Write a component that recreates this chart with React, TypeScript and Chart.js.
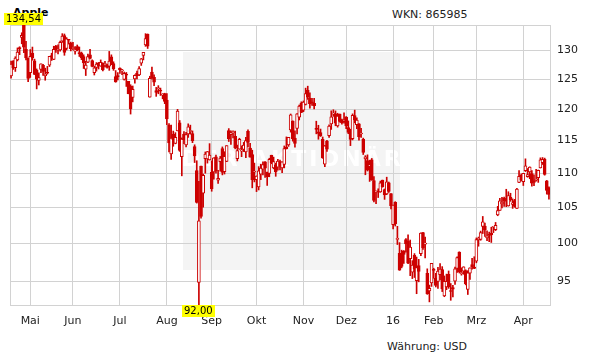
import { useEffect, useRef } from 'react';
import { Chart, registerables } from 'chart.js';

Chart.register(...registerables);

// ---- data ----
const titleText = 'Apple';
const wknText = 'WKN: 865985';
const currencyText = 'Währung: USD';
const watermarkText = 'DER AKTIONÄR';

const monthDays: [string, number[]][] = [
  ['2015-04', [20, 21, 22, 23, 24, 27, 28, 29, 30]],
  ['2015-05', [1, 4, 5, 6, 7, 8, 11, 12, 13, 14, 15, 18, 19, 20, 21, 22, 26, 27, 28, 29]],
  ['2015-06', [1, 2, 3, 4, 5, 8, 9, 10, 11, 12, 15, 16, 17, 18, 19, 22, 23, 24, 25, 26, 29, 30]],
  ['2015-07', [1, 2, 6, 7, 8, 9, 10, 13, 14, 15, 16, 17, 20, 21, 22, 23, 24, 27, 28, 29, 30, 31]],
  ['2015-08', [3, 4, 5, 6, 7, 10, 11, 12, 13, 14, 17, 18, 19, 20, 21, 24, 25, 26, 27, 28, 31]],
  ['2015-09', [1, 2, 3, 4, 8, 9, 10, 11, 14, 15, 16, 17, 18, 21, 22, 23, 24, 25, 28, 29, 30]],
  ['2015-10', [1, 2, 5, 6, 7, 8, 9, 12, 13, 14, 15, 16, 19, 20, 21, 22, 23, 26, 27, 28, 29, 30]],
  ['2015-11', [2, 3, 4, 5, 6, 9, 10, 11, 12, 13, 16, 17, 18, 19, 20, 23, 24, 25, 27, 30]],
  ['2015-12', [1, 2, 3, 4, 7, 8, 9, 10, 11, 14, 15, 16, 17, 18, 21, 22, 23, 24, 28, 29, 30, 31]],
  ['2016-01', [4, 5, 6, 7, 8, 11, 12, 13, 14, 15, 19, 20, 21, 22, 25, 26, 27, 28, 29]],
  ['2016-02', [1, 2, 3, 4, 5, 8, 9, 10, 11, 12, 16, 17, 18, 19, 22, 23, 24, 25, 26, 29]],
  ['2016-03', [1, 2, 3, 4, 7, 8, 9, 10, 11, 14, 15, 16, 17, 18, 21, 22, 23, 24, 28, 29, 30, 31]],
  ['2016-04', [1, 4, 5, 6, 7, 8, 11, 12, 13, 14, 15, 18, 19]],
];

const monthLabels: Record<string, string> = {
  '2015-05': 'Mai', '2015-06': 'Jun', '2015-07': 'Jul', '2015-08': 'Aug',
  '2015-09': 'Sep', '2015-10': 'Okt', '2015-11': 'Nov', '2015-12': 'Dez',
  '2016-01': '16', '2016-02': 'Feb', '2016-03': 'Mrz', '2016-04': 'Apr',
};

const yTickValues = [95, 100, 105, 110, 115, 120, 125, 130];

const opens = [
  125.57, 128.10, 126.99, 128.30, 130.49, 132.31, 134.46, 130.16, 128.64,
  126.10, 129.50, 128.15, 126.56, 124.77, 126.68, 127.39, 125.60, 126.15, 127.41, 129.07, 128.38, 130.69, 130.00, 130.07, 131.60, 132.60, 130.34, 131.86, 131.23,
  130.28, 129.86, 130.66, 129.58, 129.50, 128.90, 126.70, 127.92, 129.18, 128.19, 126.10, 127.03, 127.72, 127.23, 127.71, 127.49, 127.48, 127.21, 128.86, 127.67, 125.46, 125.57,
  126.90, 126.43, 124.94, 125.89, 124.64, 123.85, 121.94, 125.03, 126.04, 125.72, 127.74, 129.08, 130.97, 132.85, 121.99, 126.20, 125.32, 123.09, 123.38, 123.15, 122.32, 122.60,
  121.50, 117.42, 112.95, 115.97, 114.58, 116.53, 117.81, 112.53, 116.04, 114.32, 116.04, 116.43, 116.10, 114.08, 110.43, 94.87, 111.11, 107.09, 112.23, 112.17, 112.03,
  110.15, 110.23, 112.49, 108.97, 111.75, 113.76, 110.27, 111.79, 116.58, 115.93, 116.25, 115.66, 112.21, 113.67, 113.38, 113.63, 113.25, 116.44, 113.85, 112.83, 110.17,
  109.07, 108.01, 109.88, 110.63, 111.74, 110.19, 110.00, 112.73, 110.82, 111.29, 110.93, 111.78, 110.80, 111.34, 114.00, 114.33, 116.70, 118.08, 115.40, 116.93, 118.70, 120.99,
  119.87, 120.79, 123.13, 121.85, 121.11, 120.96, 116.90, 116.37, 116.26, 115.20, 111.38, 114.92, 115.76, 117.64, 119.20, 119.27, 117.33, 119.21, 118.29, 117.99,
  118.75, 117.05, 116.55, 115.29, 118.98, 117.52, 117.64, 116.04, 115.19, 112.18, 111.94, 111.07, 112.02, 108.91, 107.28, 107.40, 107.27, 109.00, 107.59, 106.96, 108.58, 107.01,
  102.61, 105.75, 100.56, 98.68, 98.55, 98.97, 100.55, 100.32, 97.96, 96.20, 98.41, 95.10, 97.06, 98.63, 101.52, 99.93, 96.04, 93.79, 94.79,
  96.47, 95.42, 95.00, 95.86, 96.52, 93.13, 94.29, 95.92, 93.79, 94.19, 95.02, 96.67, 98.84, 96.00, 96.31, 96.40, 93.98, 96.05, 97.20, 96.86,
  97.65, 100.51, 100.58, 102.37, 102.39, 100.78, 101.31, 101.41, 102.24, 101.91, 103.96, 104.61, 105.52, 106.34, 105.93, 105.25, 106.48, 105.47, 106.00, 104.89, 108.65, 109.72,
  108.78, 110.42, 109.51, 110.23, 109.95, 108.91, 108.97, 109.34, 110.80, 111.62, 112.11, 108.89, 107.88,
];

const highs = [
  128.12, 128.20, 128.87, 130.42, 130.63, 133.13, 134.54, 131.59, 128.64,
  130.13, 130.57, 128.45, 126.75, 126.08, 127.62, 127.56, 126.88, 127.19, 128.95, 129.49, 130.72, 130.88, 130.98, 131.63, 132.97, 132.91, 132.26, 131.95, 131.45,
  131.39, 130.66, 130.94, 130.58, 129.69, 129.21, 128.08, 129.34, 130.18, 128.33, 127.24, 127.85, 127.88, 128.31, 127.82, 128.06, 127.61, 129.80, 129.20, 127.99, 126.47, 126.12,
  126.94, 126.69, 126.23, 126.15, 124.64, 124.06, 123.85, 125.76, 126.37, 127.15, 128.57, 129.62, 132.97, 132.92, 125.50, 127.09, 125.74, 123.61, 123.91, 123.50, 122.57, 122.64,
  122.57, 117.70, 117.44, 116.50, 116.25, 119.99, 118.18, 115.42, 116.40, 116.31, 117.65, 117.44, 116.52, 114.35, 111.90, 108.80, 111.11, 109.89, 113.24, 113.31, 114.53,
  111.88, 112.34, 112.78, 110.45, 112.56, 114.02, 113.28, 114.21, 116.89, 116.53, 116.54, 116.49, 114.30, 115.37, 114.18, 114.72, 115.50, 116.69, 114.57, 113.51, 111.54,
  109.62, 111.01, 111.37, 111.74, 111.77, 110.19, 112.28, 112.75, 112.45, 111.52, 112.10, 112.00, 111.75, 114.17, 115.58, 115.50, 119.23, 118.13, 116.54, 119.30, 120.69, 121.22,
  121.36, 123.49, 123.82, 122.69, 121.81, 121.81, 118.07, 117.42, 116.82, 115.57, 114.24, 115.05, 117.49, 119.75, 119.92, 119.73, 119.35, 119.23, 118.41, 119.41,
  118.81, 118.11, 116.79, 119.25, 119.86, 118.60, 117.69, 116.94, 115.39, 112.68, 112.80, 111.99, 112.25, 109.52, 107.37, 107.72, 108.85, 109.00, 107.69, 109.43, 108.70, 107.03,
  105.37, 105.85, 102.37, 100.13, 99.11, 99.06, 100.69, 101.19, 100.48, 97.71, 98.65, 98.19, 97.88, 101.46, 101.53, 100.88, 96.63, 94.52, 97.34,
  96.71, 96.04, 96.84, 97.33, 96.92, 95.70, 95.94, 96.35, 94.72, 94.50, 96.85, 98.21, 98.89, 96.76, 96.90, 96.50, 96.38, 96.76, 98.02, 98.23,
  100.77, 100.89, 101.71, 103.75, 102.83, 101.76, 101.58, 102.24, 102.28, 102.91, 105.18, 106.35, 106.47, 106.50, 107.65, 107.29, 107.07, 106.25, 106.19, 107.79, 110.42, 109.90,
  110.00, 112.19, 110.73, 110.98, 110.42, 109.77, 110.61, 110.50, 112.34, 112.39, 112.30, 108.95, 108.00,
];

const lows = [
  125.17, 126.67, 126.32, 128.14, 129.23, 131.15, 129.57, 128.30, 124.58,
  125.30, 128.26, 125.78, 123.36, 124.02, 126.11, 125.63, 124.82, 125.87, 127.16, 128.21, 128.36, 129.64, 129.34, 129.83, 131.40, 129.12, 130.05, 131.10, 129.90,
  130.05, 129.32, 129.90, 128.91, 128.36, 126.83, 125.62, 127.85, 128.48, 127.11, 125.71, 126.37, 126.74, 127.22, 126.40, 127.08, 126.88, 126.51, 127.50, 126.51, 124.48, 124.86,
  125.99, 125.77, 124.85, 123.77, 122.54, 119.22, 121.21, 124.32, 125.04, 125.58, 127.35, 128.31, 130.70, 130.32, 121.99, 125.06, 123.90, 122.12, 122.55, 122.27, 121.71, 120.91,
  117.52, 113.25, 112.10, 114.12, 114.50, 116.53, 113.33, 109.63, 114.54, 114.01, 115.50, 116.01, 114.68, 111.63, 105.65, 92.00, 103.50, 105.05, 110.02, 111.54, 112.00,
  107.36, 109.13, 110.04, 108.51, 110.32, 109.77, 109.90, 111.76, 114.86, 114.42, 115.44, 113.72, 111.87, 113.66, 112.52, 113.30, 112.37, 114.02, 112.44, 107.86, 108.73,
  107.31, 107.55, 109.07, 109.77, 109.41, 108.21, 109.49, 111.44, 110.68, 109.56, 110.49, 110.53, 110.11, 110.82, 113.70, 114.10, 116.33, 114.92, 113.99, 116.06, 118.27, 119.45,
  119.61, 120.70, 121.62, 120.18, 120.62, 120.05, 116.06, 115.21, 115.65, 112.27, 111.00, 113.32, 115.50, 116.76, 118.85, 117.34, 117.12, 117.92, 117.60, 117.75,
  116.86, 116.08, 114.22, 115.11, 117.81, 116.86, 115.08, 115.51, 112.85, 109.79, 110.35, 108.80, 108.98, 105.81, 105.57, 106.45, 107.20, 107.95, 106.18, 106.86, 107.18, 104.82,
  102.00, 102.41, 99.87, 96.43, 96.76, 97.34, 98.84, 97.30, 95.74, 95.36, 95.50, 93.42, 94.94, 98.37, 99.21, 98.07, 93.34, 92.39, 94.35,
  95.40, 94.28, 94.08, 95.19, 93.69, 93.04, 93.93, 94.10, 92.59, 93.01, 94.61, 96.15, 96.09, 95.80, 95.92, 94.55, 93.32, 95.25, 96.58, 96.65,
  97.42, 99.64, 100.45, 101.37, 100.96, 100.40, 100.27, 100.15, 101.50, 101.78, 103.85, 104.59, 104.96, 105.19, 105.14, 105.21, 105.90, 104.89, 105.06, 104.88, 108.60, 108.88,
  108.20, 110.27, 109.42, 109.20, 108.12, 108.17, 108.83, 108.66, 110.80, 111.33, 109.73, 106.94, 106.23,
];

const closes = [
  127.60, 126.91, 128.62, 129.67, 130.28, 132.65, 130.56, 128.64, 125.15,
  128.95, 128.70, 125.80, 125.01, 125.26, 127.62, 126.32, 125.87, 126.01, 128.95, 128.77, 130.19, 130.07, 130.06, 131.39, 132.54, 129.62, 132.05, 131.78, 130.28,
  130.54, 129.96, 130.12, 129.36, 128.65, 127.80, 127.42, 128.88, 128.59, 127.17, 126.92, 127.60, 127.30, 127.88, 126.60, 127.61, 127.03, 128.11, 127.50, 126.75, 124.53, 125.43,
  126.60, 126.44, 126.00, 125.69, 122.57, 120.07, 123.28, 125.66, 125.61, 126.82, 128.51, 129.62, 132.07, 130.75, 125.16, 125.22, 124.50, 122.77, 123.38, 122.99, 122.37, 121.30,
  118.44, 114.64, 115.40, 115.13, 115.52, 119.72, 113.49, 115.24, 115.15, 115.96, 117.16, 116.50, 115.01, 112.65, 105.76, 103.12, 103.74, 109.69, 112.92, 113.29, 112.76,
  107.72, 112.34, 110.37, 109.27, 112.31, 110.15, 112.57, 114.21, 115.31, 116.28, 116.41, 113.92, 113.45, 115.21, 113.40, 114.32, 115.00, 114.71, 112.44, 109.06, 110.30,
  109.58, 110.38, 110.78, 111.31, 110.78, 109.50, 112.12, 111.60, 111.79, 110.21, 111.86, 111.04, 111.73, 113.77, 113.76, 115.50, 119.08, 115.28, 114.55, 119.27, 120.53, 119.50,
  121.18, 122.57, 122.00, 120.92, 121.06, 120.57, 116.77, 116.11, 115.72, 112.34, 114.18, 113.69, 117.29, 118.78, 119.30, 117.75, 118.88, 118.03, 117.81, 118.30,
  117.34, 116.28, 115.20, 119.03, 118.28, 118.23, 115.62, 116.17, 113.18, 112.48, 110.49, 111.34, 108.98, 106.03, 107.33, 107.23, 108.61, 108.03, 106.82, 108.74, 107.32, 105.26,
  105.35, 102.71, 100.70, 96.45, 96.96, 98.53, 99.96, 97.39, 99.52, 97.13, 96.66, 96.79, 96.30, 101.42, 99.44, 99.99, 93.42, 94.09, 97.34,
  96.43, 94.48, 96.35, 96.60, 94.02, 95.01, 94.99, 94.27, 93.70, 93.99, 96.64, 98.12, 96.26, 96.04, 96.88, 94.69, 96.10, 96.76, 96.91, 96.69,
  100.53, 100.75, 101.50, 103.01, 101.87, 101.03, 101.12, 101.17, 102.26, 102.52, 104.58, 105.97, 105.80, 105.92, 105.91, 106.72, 106.13, 105.67, 105.19, 107.68, 109.56, 108.99,
  109.99, 111.12, 109.81, 110.96, 108.54, 108.66, 109.02, 110.44, 112.04, 112.10, 109.85, 107.48, 106.91,
];

// ---- styles ----
const RED = '#cc0000';
const GRID = '#d2d2d2';
const FONT = "'DejaVu Sans', Verdana, sans-serif";

export default function App() {
  const ref = useRef<HTMLCanvasElement | null>(null);

  useEffect(() => {
    if (!ref.current) return;
    const dates: string[] = [];
    monthDays.forEach(([m, days]) => days.forEach((d) => dates.push(`${m}-${String(d).padStart(2, '0')}`)));
    const n = closes.length;

    const tickIdx: number[] = [];
    const tickLabel: Record<number, string> = {};
    Object.keys(monthLabels).forEach((m) => {
      const i = dates.findIndex((d) => d.startsWith(m));
      if (i >= 0) {
        tickIdx.push(i);
        tickLabel[i] = monthLabels[m];
      }
    });

    const bodies = closes.map((c, i) => ({ x: i, y: [Math.min(opens[i], c), Math.max(opens[i], c)] }));
    const wicks = closes.map((_, i) => ({ x: i, y: [lows[i], highs[i]] }));
    const bodyFill = closes.map((c, i) => (c >= opens[i] ? '#ffffff' : RED));

    let maxI = 0;
    let minI = 0;
    highs.forEach((h, i) => { if (h > highs[maxI]) maxI = i; });
    lows.forEach((l, i) => { if (l < lows[minI]) minI = i; });
    const yMin = lows[minI];
    const yMax = highs[maxI];

    const decor = {
      id: 'decor',
      beforeDraw(chart: any) {
        const { ctx, chartArea: a } = chart;
        ctx.save();
        const wx = a.left + 173;
        const wy = a.top + 27;
        const ww = 217;
        const wh = 218;
        ctx.fillStyle = '#f4f4f4';
        ctx.fillRect(wx, wy, ww, wh);
        ctx.fillStyle = '#ffffff';
        ctx.font = `bold 22px ${FONT}`;
        ctx.textAlign = 'center';
        ctx.textBaseline = 'middle';
        try { (ctx as any).letterSpacing = '3px'; } catch (e) { /* ignore */ }
        ctx.fillText(watermarkText, wx + ww / 2 + 1, a.top + 135);
        ctx.restore();
      },
      beforeDatasetsDraw(chart: any) {
        const { ctx, chartArea: a } = chart;
        ctx.save();
        ctx.strokeStyle = GRID;
        ctx.lineWidth = 1;
        ctx.strokeRect(a.left + 0.5, a.top + 0.5, a.right - a.left, a.bottom - a.top);
        ctx.restore();
      },
      afterDraw(chart: any) {
        const { ctx, chartArea: a, scales } = chart;
        const label = (text: string, cx: number, y: number, above: boolean) => {
          ctx.save();
          ctx.font = `10px ${FONT}`;
          const w = Math.round(ctx.measureText(text).width) + 4;
          const h = 12;
          const x0 = Math.round(cx - w / 2);
          const y0 = above ? y - h : y;
          ctx.fillStyle = '#ffff00';
          ctx.fillRect(x0, y0, w, h);
          ctx.fillStyle = '#000000';
          ctx.textAlign = 'left';
          ctx.textBaseline = 'middle';
          ctx.fillText(text, x0 + 2, y0 + h / 2 + 0.5);
          ctx.restore();
        };
        const fmt = (v: number) => v.toFixed(2).replace('.', ',');
        label(fmt(yMax), scales.x.getPixelForValue(maxI), a.top, true);
        label(fmt(yMin), scales.x.getPixelForValue(minI), a.bottom, false);
      },
    };

    const chart = new Chart(ref.current, {
      type: 'bar',
      data: {
        datasets: [
          {
            data: bodies as any,
            backgroundColor: bodyFill,
            borderColor: RED,
            borderWidth: 1,
            borderSkipped: false,
            barThickness: 3,
            minBarLength: 1,
            grouped: false,
            order: 0,
          } as any,
          {
            data: wicks as any,
            backgroundColor: RED,
            borderWidth: 0,
            barThickness: 1,
            grouped: false,
            order: 1,
          } as any,
        ],
      },
      options: {
        responsive: false,
        animation: false,
        events: [],
        layout: { padding: { left: 10, top: 25, right: 0, bottom: 29 } },
        plugins: { legend: { display: false }, tooltip: { enabled: false }, title: { display: false } },
        scales: {
          x: {
            type: 'linear',
            min: -0.5,
            max: n - 0.5,
            bounds: 'data',
            offset: false,
            afterBuildTicks: (s: any) => { s.ticks = tickIdx.map((v) => ({ value: v })); },
            afterFit: (s: any) => { s.height = 30; },
            ticks: {
              callback: (v: any) => tickLabel[v] ?? '',
              font: { family: FONT, size: 11 },
              color: '#222222',
              padding: 10,
              maxRotation: 0,
              autoSkip: false,
            },
            grid: { color: GRID, drawTicks: false, offset: false, lineWidth: 1 },
            border: { color: GRID },
          },
          y: {
            type: 'logarithmic',
            position: 'right',
            min: yMin,
            max: yMax,
            bounds: 'data',
            afterBuildTicks: (s: any) => { s.ticks = yTickValues.map((v) => ({ value: v })); },
            afterFit: (s: any) => { s.width = 61; },
            ticks: {
              callback: (v: any) => String(v),
              font: { family: FONT, size: 11 },
              color: '#222222',
              padding: 7,
            },
            grid: { color: GRID, drawTicks: false, lineWidth: 1 },
            border: { color: GRID },
          },
        },
      } as any,
      plugins: [decor],
    });
    return () => chart.destroy();
  }, []);

  const txt: React.CSSProperties = {
    position: 'absolute',
    fontFamily: FONT,
    fontSize: 11,
    lineHeight: '11px',
    color: '#222222',
    whiteSpace: 'nowrap',
    zIndex: 0,
  };

  return (
    <div style={{ position: 'absolute', left: 0, top: 0, width: 611, height: 364, background: '#ffffff', overflow: 'hidden' }}>
      <div style={{ ...txt, left: 13, top: 7, fontWeight: 'bold', color: '#000000' }}>{titleText}</div>
      <div style={{ ...txt, left: 392, top: 9 }}>{wknText}</div>
      <div style={{ ...txt, left: 387, top: 341 }}>{currencyText}</div>
      <canvas ref={ref} width={611} height={364} style={{ position: 'absolute', left: 0, top: 0, zIndex: 1 }} />
    </div>
  );
}
